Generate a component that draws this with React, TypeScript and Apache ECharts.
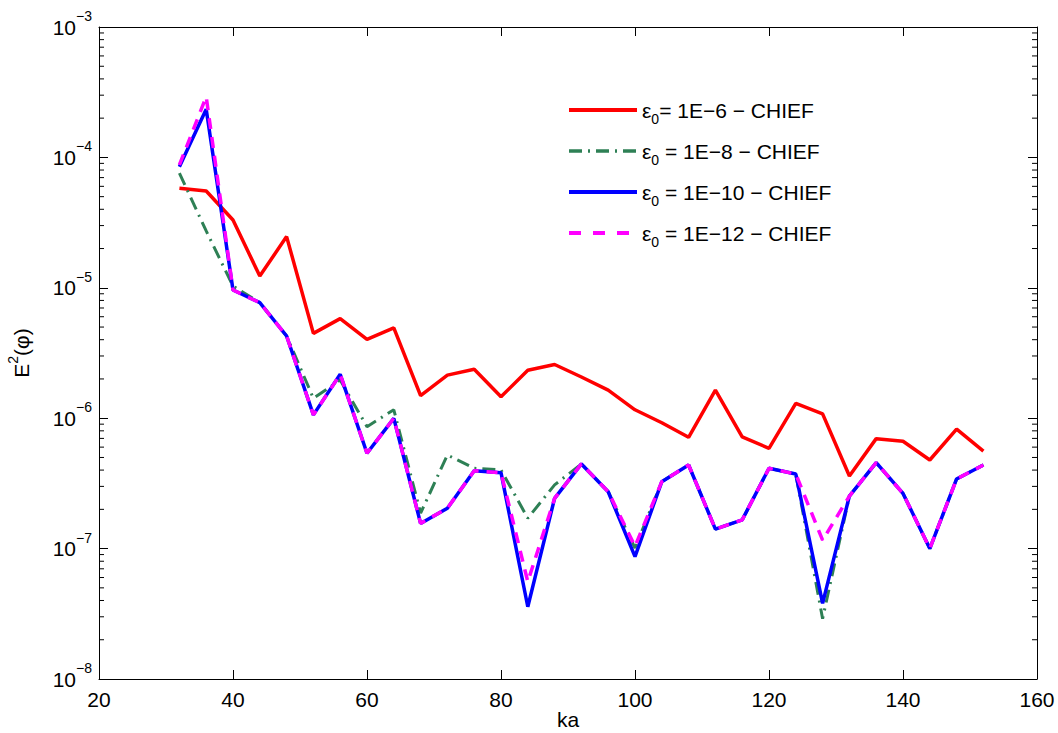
import React, { useEffect, useRef } from "react";
import * as echarts from "echarts";

const ka = [32, 36, 40, 44, 48, 52, 56, 60, 64, 68, 72, 76, 80, 84, 88, 92, 96, 100, 104, 108, 112, 116, 120, 124, 128, 132, 136, 140, 144, 148, 152];

const err6 = [5.79e-5, 5.52e-5, 3.31e-5, 1.23e-5, 2.47e-5, 4.47e-6, 5.8e-6, 4.02e-6, 4.93e-6, 1.49e-6, 2.14e-6, 2.37e-6, 1.46e-6, 2.33e-6, 2.58e-6, 2.07e-6, 1.64e-6, 1.16e-6, 9.23e-7, 7.14e-7, 1.64e-6, 7.18e-7, 5.88e-7, 1.3e-6, 1.08e-6, 3.6e-7, 6.97e-7, 6.65e-7, 4.78e-7, 8.26e-7, 5.6e-7];
const err8 = [7.59e-5, 2.73e-5, 1.03e-5, 7.69e-6, 4.27e-6, 1.42e-6, 1.96e-6, 8.61e-7, 1.16e-6, 1.87e-7, 5.22e-7, 4.13e-7, 4.01e-7, 1.71e-7, 3.08e-7, 4.46e-7, 2.73e-7, 1.01e-7, 3.26e-7, 4.38e-7, 1.41e-7, 1.66e-7, 4.13e-7, 3.73e-7, 2.9e-8, 2.53e-7, 4.56e-7, 2.65e-7, 1.0e-7, 3.42e-7, 4.38e-7];
const err10 = [8.49e-5, 2.34e-4, 9.62e-6, 7.69e-6, 4.27e-6, 1.06e-6, 2.17e-6, 5.38e-7, 9.98e-7, 1.56e-7, 2.04e-7, 3.95e-7, 3.82e-7, 3.58e-8, 2.43e-7, 4.46e-7, 2.73e-7, 8.67e-8, 3.26e-7, 4.38e-7, 1.41e-7, 1.66e-7, 4.13e-7, 3.73e-7, 3.8e-8, 2.53e-7, 4.56e-7, 2.65e-7, 1.0e-7, 3.42e-7, 4.38e-7];
const err12 = [8.75e-5, 2.92e-4, 9.62e-6, 7.69e-6, 4.27e-6, 1.06e-6, 2.17e-6, 5.38e-7, 9.98e-7, 1.56e-7, 2.04e-7, 3.95e-7, 3.82e-7, 5.57e-8, 2.43e-7, 4.46e-7, 2.73e-7, 1.04e-7, 3.26e-7, 4.38e-7, 1.41e-7, 1.66e-7, 4.13e-7, 3.73e-7, 1.16e-7, 2.53e-7, 4.56e-7, 2.65e-7, 1.0e-7, 3.42e-7, 4.38e-7];

const seriesNames = [
  "ε0= 1E−6 − CHIEF",
  "ε0 = 1E−8 − CHIEF",
  "ε0 = 1E−10 − CHIEF",
  "ε0 = 1E−12 − CHIEF",
];
const legendRich = [
  "{m|ε}{sub|0}{m|= 1E−6 − CHIEF}",
  "{m|ε}{sub|0}{m| = 1E−8 − CHIEF}",
  "{m|ε}{sub|0}{m| = 1E−10 − CHIEF}",
  "{m|ε}{sub|0}{m| = 1E−12 − CHIEF}",
];

const xMin = 20;
const xMax = 160;
const xStep = 20;
const yMin = 1e-8;
const yMax = 1e-3;
const minorMantissa = [2, 3, 4, 5, 6, 7, 8, 9];
const decades = [-8, -7, -6, -5, -4];

const FONT = "'Liberation Sans', Arial, Helvetica, sans-serif";

const RED = "#ff0000";
const GREEN = "#2e8055";
const BLUE = "#0000ff";
const MAGENTA = "#ff00ff";

export default function App() {
  const ref = useRef<HTMLDivElement>(null);
  useEffect(() => {
    if (!ref.current) return;
    const chart = echarts.init(ref.current, null, { renderer: "svg" });
    const pair = (arr: number[]) => ka.map((k, i) => [k, arr[i]]);
    const minorData: number[][] = [];
    decades.forEach((d) => minorMantissa.forEach((m) => minorData.push([xMin, m * Math.pow(10, d)])));

    const supLabel = (v: number) => {
      const e = Math.round(Math.log10(v));
      return `{b|10}{s|${e < 0 ? "−" : ""}${Math.abs(e)}}`;
    };

    const axisLine = { show: true, lineStyle: { color: "#000", width: 1 } };
    const tickStyle = { show: true, inside: true, length: 9, lineStyle: { color: "#000", width: 1 } };

    const legendLine = [
      { color: RED, width: 4, type: "solid" },
      { color: GREEN, width: 3.5, type: [13, 6, 2, 6] },
      { color: BLUE, width: 4, type: "solid" },
      { color: MAGENTA, width: 4, type: [12, 12] },
    ];

    chart.setOption({
      animation: false,
      backgroundColor: "#fff",
      textStyle: { fontFamily: FONT },
      grid: { left: 99, right: 21, top: 27, bottom: 54, containLabel: false, outerBoundsMode: "none" },
      legend: {
        orient: "vertical",
        left: 567,
        top: 94,
        padding: 0,
        itemWidth: 68,
        itemHeight: 12,
        itemGap: 9,
        itemStyle: { opacity: 0 },
        data: seriesNames.map((n, i) => ({ name: n, lineStyle: legendLine[i], itemStyle: { opacity: 0 } })),
        formatter: (name: string) => legendRich[seriesNames.indexOf(name)],
        textStyle: {
          fontFamily: FONT,
          color: "#000",
          rich: {
            m: { fontSize: 21, lineHeight: 21, fontFamily: FONT, color: "#000" },
            sub: { fontSize: 14, lineHeight: 21, padding: [18, 0, 0, 0], fontFamily: FONT, color: "#000" },
          },
        },
      },
      xAxis: [
        {
          type: "value",
          min: xMin,
          max: xMax,
          interval: xStep,
          name: "ka",
          nameLocation: "middle",
          nameGap: 30,
          nameMoveOverlap: false,
          nameTextStyle: { fontSize: 21, lineHeight: 21, color: "#000", fontFamily: FONT },
          axisLine,
          axisTick: tickStyle,
          splitLine: { show: false },
          axisLabel: { fontSize: 21, color: "#000", margin: 10, fontFamily: FONT },
        },
        {
          type: "value",
          position: "top",
          min: xMin,
          max: xMax,
          interval: xStep,
          axisLine,
          axisTick: tickStyle,
          splitLine: { show: false },
          axisLabel: { show: false },
        },
      ],
      yAxis: [
        {
          type: "log",
          logBase: 10,
          min: yMin,
          max: yMax,
          name: "{e|E}{s|2}{e|(φ)}",
          nameLocation: "middle",
          nameRotate: 90,
          nameGap: 67,
          nameTextStyle: {
            color: "#000",
            rich: {
              e: { fontSize: 21, lineHeight: 22, fontFamily: FONT, color: "#000" },
              s: { fontSize: 14, lineHeight: 22, padding: [0, 0, 16, 0], fontFamily: FONT, color: "#000" },
            },
          },
          axisLine,
          axisTick: tickStyle,
          splitLine: { show: false },
          axisLabel: {
            margin: 7,
            formatter: supLabel,
            rich: {
              b: { fontSize: 21, lineHeight: 22, fontFamily: FONT, color: "#000" },
              s: { fontSize: 14, lineHeight: 22, padding: [0, 0, 22, 0], fontFamily: FONT, color: "#000" },
            },
          },
        },
        {
          type: "log",
          logBase: 10,
          position: "right",
          min: yMin,
          max: yMax,
          axisLine,
          axisTick: tickStyle,
          splitLine: { show: false },
          axisLabel: { show: false },
        },
      ],
      series: [
        {
          type: "custom",
          silent: true,
          xAxisIndex: 0,
          yAxisIndex: 0,
          data: minorData,
          encode: { x: 0, y: 1 },
          clip: false,
          z: 1,
          renderItem: (_params: any, api: any) => {
            const v = api.value(1);
            const l = api.coord([xMin, v]);
            const r = api.coord([xMax, v]);
            return {
              type: "group",
              children: [
                { type: "line", shape: { x1: l[0], y1: l[1], x2: l[0] + 5, y2: l[1] }, style: { stroke: "#000", lineWidth: 1 } },
                { type: "line", shape: { x1: r[0] - 5, y1: r[1], x2: r[0], y2: r[1] }, style: { stroke: "#000", lineWidth: 1 } },
              ],
            };
          },
        },
        {
          name: seriesNames[0],
          type: "line",
          data: pair(err6),
          symbol: "none",
          z: 2,
          lineStyle: { color: RED, width: 3.5 },
          itemStyle: { color: RED },
        },
        {
          name: seriesNames[1],
          type: "line",
          data: pair(err8),
          symbol: "none",
          z: 3,
          lineStyle: { color: GREEN, width: 3, type: [13, 6, 2, 6] },
          itemStyle: { color: GREEN },
        },
        {
          name: seriesNames[2],
          type: "line",
          data: pair(err10),
          symbol: "none",
          z: 4,
          lineStyle: { color: BLUE, width: 3.5 },
          itemStyle: { color: BLUE },
        },
        {
          name: seriesNames[3],
          type: "line",
          data: pair(err12),
          symbol: "none",
          z: 5,
          lineStyle: { color: MAGENTA, width: 3.5, type: [11, 8] },
          itemStyle: { color: MAGENTA },
        },
      ],
    });
    return () => chart.dispose();
  }, []);
  return (
    <div
      ref={ref}
      style={{ position: "fixed", left: 0, top: 0, width: 1058, height: 733, background: "#fff" }}
    />
  );
}
